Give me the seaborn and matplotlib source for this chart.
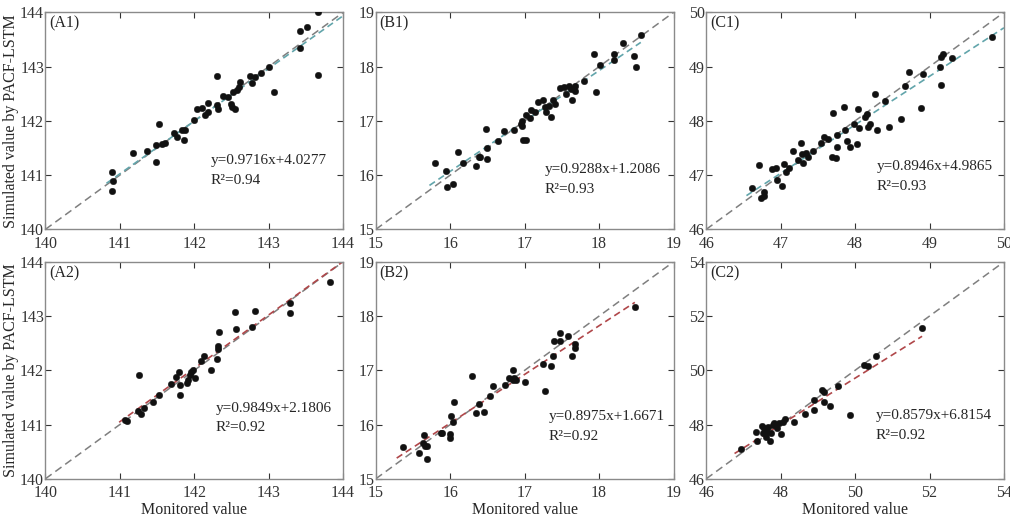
import numpy as np
import pandas as pd
import matplotlib
matplotlib.use('Agg')
import matplotlib.pyplot as plt
import seaborn as sns

# Данные (monitored x, simulated y)
a1_x = [140.90, 140.91, 140.90, 141.17, 141.36, 141.48, 141.52, 141.49, 141.56, 141.60,
        141.73, 141.77, 141.84, 141.86, 141.88, 142.00, 142.04, 142.11, 142.14, 142.19,
        142.18, 142.30, 142.30, 142.32, 142.39, 142.45, 142.49, 142.51, 142.55, 142.57,
        142.60, 142.61, 142.52, 142.75, 142.77, 142.82, 142.90, 143.00, 143.07, 143.42,
        143.42, 143.52, 143.66, 143.66]
a1_y = [141.05, 140.90, 140.71, 141.40, 141.45, 141.24, 141.95, 141.56, 141.58, 141.60,
        141.77, 141.71, 141.83, 141.65, 141.83, 142.01, 142.21, 142.24, 142.10, 142.33,
        142.16, 142.83, 142.30, 142.22, 142.45, 142.44, 142.32, 142.26, 142.22, 142.56,
        142.62, 142.71, 142.53, 142.82, 142.70, 142.80, 142.88, 142.99, 142.53, 143.35,
        143.66, 143.74, 144.00, 142.85]

b1_x = [15.80, 15.94, 15.95, 16.04, 16.11, 16.17, 16.34, 16.38, 16.40, 16.48, 16.49, 16.50,
        16.64, 16.72, 16.85, 16.95, 16.97, 16.96, 16.98, 17.02, 17.02, 17.07, 17.09, 17.14,
        17.18, 17.25, 17.27, 17.29, 17.33, 17.35, 17.38, 17.41, 17.48, 17.53, 17.56, 17.60,
        17.62, 17.64, 17.67, 17.67, 17.80, 17.93, 17.96, 18.01, 18.20, 18.20, 18.32, 18.47,
        18.50, 18.56]
b1_y = [16.23, 16.07, 15.78, 15.84, 16.43, 16.23, 16.17, 16.34, 16.34, 16.85, 16.29, 16.50,
        16.62, 16.81, 16.84, 16.94, 17.00, 16.90, 16.64, 16.64, 17.10, 17.05, 17.20, 17.17,
        17.34, 17.39, 17.25, 17.16, 17.28, 17.08, 17.38, 17.32, 17.60, 17.63, 17.50, 17.64,
        17.58, 17.39, 17.65, 17.55, 17.73, 18.24, 17.53, 18.03, 18.13, 18.23, 18.44, 18.20,
        18.00, 18.58]

c1_x = [46.62, 46.71, 46.73, 46.77, 46.78, 46.88, 46.94, 46.95, 47.05, 47.02, 47.07, 47.11,
        47.16, 47.23, 47.27, 47.28, 47.30, 47.34, 47.37, 47.43, 47.54, 47.58, 47.63, 47.69,
        47.70, 47.74, 47.75, 47.75, 47.85, 47.86, 47.89, 47.93, 47.98, 48.03, 48.04, 48.05,
        48.13, 48.16, 48.17, 48.20, 48.27, 48.29, 48.40, 48.45, 48.61, 48.67, 48.73, 48.88,
        48.91, 49.14, 49.15, 49.16, 49.18, 49.30, 49.84]
c1_y = [46.76, 47.19, 46.57, 46.68, 46.61, 47.11, 47.13, 46.91, 47.21, 46.80, 47.05, 47.13,
        47.45, 47.28, 47.59, 47.39, 47.22, 47.41, 47.33, 47.45, 47.60, 47.71, 47.66, 47.34,
        48.15, 47.31, 47.52, 47.74, 48.26, 47.84, 47.62, 47.52, 47.95, 47.57, 48.21, 47.86,
        48.07, 48.13, 47.89, 47.95, 48.50, 47.84, 48.37, 47.88, 48.04, 48.65, 48.91, 48.24,
        48.87, 48.99, 48.66, 49.17, 49.23, 49.16, 49.54]

a2_x = [141.07, 141.09, 141.24, 141.26, 141.28, 141.33, 141.44, 141.53, 141.69, 141.76,
        141.80, 141.81, 141.81, 141.90, 141.92, 141.94, 141.96, 141.98, 142.01, 142.09,
        142.13, 142.23, 142.30, 142.32, 142.32, 142.33, 142.55, 142.56, 142.78, 142.82,
        143.28, 143.28, 143.83]
a2_y = [141.09, 141.06, 141.25, 141.92, 141.19, 141.30, 141.41, 141.55, 141.75, 141.88,
        141.97, 141.73, 141.55, 141.76, 141.82, 141.91, 141.97, 142.00, 141.86, 142.18,
        142.26, 142.01, 142.20, 142.39, 142.45, 142.70, 143.07, 142.76, 142.79, 143.10,
        143.24, 143.06, 143.62]

b2_x = [15.36, 15.58, 15.65, 15.63, 15.66, 15.69, 15.69, 15.87, 15.89, 15.99, 16.00, 16.01,
        16.03, 16.05, 16.29, 16.34, 16.38, 16.45, 16.54, 16.57, 16.73, 16.79, 16.84, 16.84,
        16.88, 16.86, 17.00, 17.25, 17.27, 17.35, 17.38, 17.39, 17.47, 17.48, 17.58, 17.63,
        17.67, 17.67, 18.48]
b2_y = [15.58, 15.48, 15.81, 15.66, 15.60, 15.60, 15.36, 15.85, 15.85, 15.82, 15.76, 16.15,
        16.05, 16.41, 16.89, 16.21, 16.38, 16.24, 16.52, 16.71, 16.73, 16.85, 17.01, 16.83,
        16.83, 16.86, 16.78, 17.12, 16.62, 17.08, 17.27, 17.54, 17.54, 17.68, 17.64, 17.27,
        17.48, 17.42, 18.17]

c2_x = [46.92, 47.37, 47.34, 47.49, 47.52, 47.56, 47.61, 47.63, 47.65, 47.70, 47.74, 47.79,
        47.83, 47.90, 47.96, 48.00, 48.05, 48.12, 48.37, 48.66, 48.90, 48.90, 49.10, 49.17,
        49.17, 49.33, 49.55, 49.87, 50.24, 50.35, 50.57, 51.80]
c2_y = [47.10, 47.40, 47.73, 47.95, 47.67, 47.86, 47.55, 47.73, 47.92, 47.40, 47.67, 47.98,
        48.07, 47.86, 48.04, 47.64, 48.10, 48.22, 48.10, 48.37, 48.54, 48.90, 49.27, 49.20,
        48.84, 48.67, 49.42, 48.34, 50.20, 50.14, 50.53, 51.55]

panel_names = ['(A1)', '(B1)', '(C1)', '(A2)', '(B2)', '(C2)']
slopes = [0.9716, 0.9288, 0.8946, 0.9849, 0.8975, 0.8579]
intercepts = [4.0277, 1.2086, 4.9865, 2.1806, 1.6671, 6.8154]
r2_values = ['0.94', '0.93', '0.93', '0.92', '0.92', '0.92']
axis_limits = [(140, 144), (15, 19), (46, 50), (140, 144), (15, 19), (46, 54)]
tick_steps = [1, 1, 1, 1, 1, 2]

xs = [a1_x, b1_x, c1_x, a2_x, b2_x, c2_x]
ys = [a1_y, b1_y, c1_y, a2_y, b2_y, c2_y]

# Оформление
text_pos = [(0.555, 0.317), (0.567, 0.275), (0.572, 0.288),
            (0.571, 0.324), (0.580, 0.287), (0.569, 0.290)]
fit_end = [144.0, None, 50.0, 144.0, None, None]
fit_colors = ['#62a5ab'] * 3 + ['#b0474a'] * 3

sns.set_style('ticks')
plt.rcParams['font.family'] = ['Liberation Serif', 'DejaVu Serif']
plt.rcParams['font.size'] = 11

fig, axes = plt.subplots(2, 3, figsize=(10.1, 5.17), dpi=100)
plt.subplots_adjust(left=0.045, right=0.994, bottom=0.074, top=0.976,
                    wspace=0.11, hspace=0.15)

for i, ax in enumerate(axes.flat):
    df = pd.DataFrame({'x': xs[i], 'y': ys[i]})
    lo, hi = axis_limits[i]
    # линия 1:1
    ax.plot([lo, hi], [lo, hi], color='#7f7f7f', lw=1.1, ls=(0, (5, 3)), zorder=1)
    # линия регрессии
    x0 = df['x'].min() - 0.02 * (hi - lo)
    x1 = fit_end[i] if fit_end[i] is not None else df['x'].max()
    fx = np.array([x0, x1])
    ax.plot(fx, slopes[i] * fx + intercepts[i], color=fit_colors[i], lw=1.2,
            ls=(0, (4, 2.5)), zorder=2)
    sns.scatterplot(data=df, x='x', y='y', ax=ax, color='#111111', s=22,
                    edgecolor='#111111', linewidth=0.3, zorder=3)
    ax.set_xlim(lo, hi)
    ax.set_ylim(lo, hi)
    ticks = np.arange(lo, hi + 0.01, tick_steps[i])
    ax.set_xticks(ticks)
    ax.set_yticks(ticks)
    ax.tick_params(direction='in', top=True, right=True, length=4, width=0.8,
                   colors='#333333', labelsize=11.5)
    ax.tick_params(axis='x', pad=4.5)
    ax.tick_params(axis='y', pad=1)
    for sp in ax.spines.values():
        sp.set_color('#8a8a8a')
        sp.set_linewidth(1.0)
    ax.text(0.012, 0.985, panel_names[i], transform=ax.transAxes, ha='left', va='top',
            fontsize=11.5)
    tx, ty = text_pos[i]
    ax.text(tx, ty, f'y={slopes[i]:.4f}x+{intercepts[i]:.4f}', transform=ax.transAxes,
            ha='left', va='center', fontsize=11)
    ax.text(tx, ty - 0.09, f'R\u00b2={r2_values[i]}', transform=ax.transAxes,
            ha='left', va='center', fontsize=11)
    ax.set_xlabel('Monitored value' if i >= 3 else '', fontsize=11.5, labelpad=0.5)
    ax.set_ylabel('Simulated value by PACF-LSTM' if i % 3 == 0 else '', fontsize=11.5,
                  labelpad=1)

plt.savefig('out.png', dpi=100)
